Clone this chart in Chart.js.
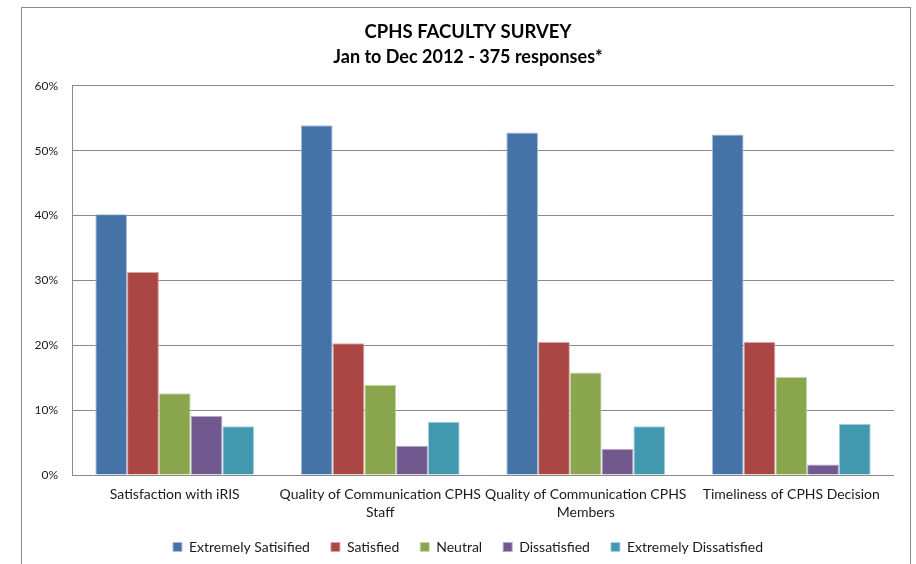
<!DOCTYPE html>
<html>
<head>
<meta charset="utf-8">
<title>CPHS Faculty Survey</title>
<script src="https://cdn.jsdelivr.net/npm/chart.js@4.4.1/dist/chart.umd.min.js"></script>
<style>
  html, body { margin: 0; padding: 0; background: #fff; }
  #wrap { width: 916px; height: 564px; }
</style>
</head>
<body>
<div id="wrap"><canvas id="surveyChart" width="916" height="564"></canvas></div>
<script>
// ------------------------------ Data ---------------------------------------
const categories = [
  'Satisfaction with iRIS',
  ['Quality of Communication CPHS', 'Staff'],
  ['Quality of Communication CPHS', 'Members'],
  'Timeliness of CPHS Decision',
];

const seriesNames = [
  'Extremely Satisified',
  'Satisfied',
  'Neutral',
  'Dissatisfied',
  'Extremely Dissatisfied',
];

// percent of responses, per category
const extremelySatisfied = [40.2, 53.9, 52.8, 52.5];
const satisfied = [31.3, 20.3, 20.5, 20.5];
const neutral = [12.6, 13.9, 15.8, 15.1];
const dissatisfied = [9.1, 4.5, 4.0, 1.6];
const extremelyDissatisfied = [7.5, 8.2, 7.5, 7.9];

const yTicks = [0, 10, 20, 30, 40, 50, 60];

// ------------------------------ Colors -------------------------------------
// Office 2007 default palette
const COL = {
  fill: ['#4572a7', '#aa4643', '#89a54e', '#71588f', '#4198af'],
  edge: ['#a9c0dc', '#d9a3a1', '#c6d8a6', '#b7a8cb', '#a3d0dc'],
  grid: '#8a8a8a',
  frame: '#8c8c8c',
  text: '#1a1a1a',
};

const FONT = 'Lato, "Open Sans", "DejaVu Sans", sans-serif';

// --------------------------- Plugins ---------------------------------------
// white background + grey outer frame (runs off the bottom like the source)
const framePlugin = {
  id: 'frame',
  beforeDraw(chart) {
    const ctx = chart.ctx;
    ctx.save();
    ctx.fillStyle = '#ffffff';
    ctx.fillRect(0, 0, chart.width, chart.height);
    ctx.strokeStyle = COL.frame;
    ctx.lineWidth = 1;
    ctx.strokeRect(21.5, 7.5, 889, 620);
    ctx.restore();
  },
};

// title, subtitle and legend are centred on the outer frame, not the plot
const centreBoxes = {
  id: 'centreBoxes',
  afterLayout(chart) {
    chart.boxes.forEach((box) => {
      if (box.axis) return; // scales keep their place
      box.left = 42;
      box.right = 894;
    });
  },
};

// --------------------------- Chart -----------------------------------------
const values = [extremelySatisfied, satisfied, neutral, dissatisfied, extremelyDissatisfied];

const datasets = seriesNames.map((name, i) => ({
  label: name,
  data: values[i],
  backgroundColor: COL.fill[i],
  borderColor: COL.edge[i],
  borderWidth: 1,
  borderSkipped: 'bottom',
  barPercentage: 1.0,
  categoryPercentage: 0.773,
}));

Chart.defaults.font.family = FONT;
Chart.defaults.color = COL.text;

new Chart(document.getElementById('surveyChart').getContext('2d'), {
  type: 'bar',
  data: { labels: categories, datasets },
  options: {
    responsive: false,
    animation: false,
    devicePixelRatio: 1,
    layout: { padding: { left: 0, right: 22, top: 0, bottom: 0 } },
    plugins: {
      title: {
        display: true,
        text: 'CPHS FACULTY SURVEY',
        color: '#000',
        font: { size: 18.5, weight: 'bold' },
        padding: { top: 21, bottom: 3 },
      },
      subtitle: {
        display: true,
        text: 'Jan to Dec 2012 - 375 responses*',
        color: '#000',
        font: { size: 18, weight: 'bold' },
        padding: { top: 0, bottom: 18 },
      },
      legend: {
        position: 'bottom',
        labels: {
          boxWidth: 9,
          boxHeight: 9,
          padding: 21,
          color: COL.text,
          font: { size: 14 },
        },
      },
      tooltip: { enabled: false },
    },
    scales: {
      x: {
        grid: { display: false },
        border: { display: false },
        ticks: {
          color: COL.text,
          font: { size: 14, lineHeight: 1.3 },
          padding: 2,
          maxRotation: 0,
          autoSkip: false,
        },
        afterFit: (scale) => { scale.height = 44; },
      },
      y: {
        min: 0,
        max: 60,
        afterBuildTicks: (scale) => { scale.ticks = yTicks.map((v) => ({ value: v })); },
        grid: { color: COL.grid, drawTicks: false },
        border: { display: true, color: COL.grid },
        ticks: {
          color: COL.text,
          font: { size: 12 },
          padding: 14,
          callback: (v) => `${v}%`,
        },
        afterFit: (scale) => { scale.width = 72; },
      },
    },
  },
  plugins: [framePlugin, centreBoxes],
});
</script>
</body>
</html>
